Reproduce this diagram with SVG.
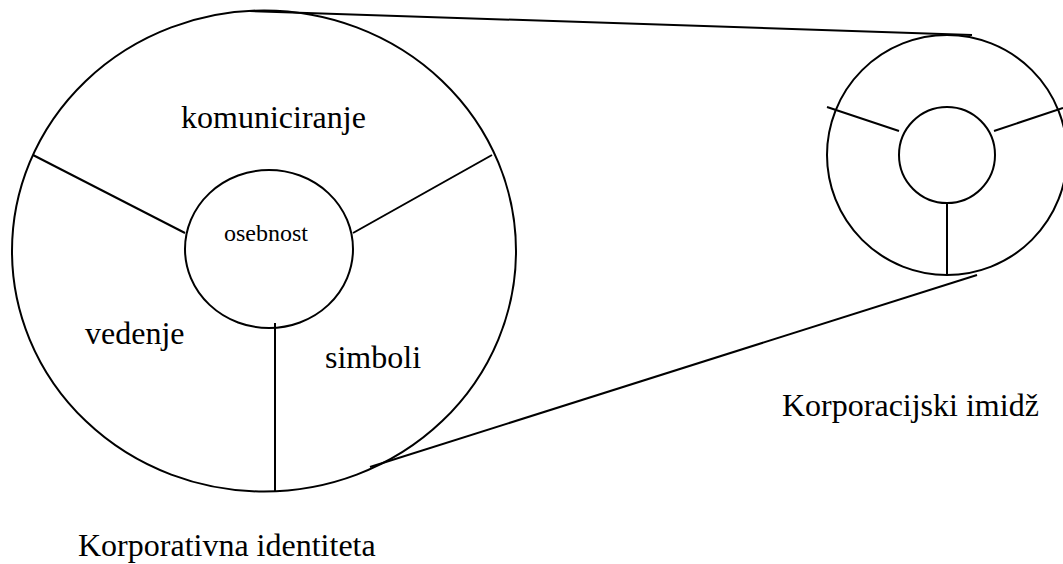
<svg xmlns="http://www.w3.org/2000/svg" width="1063" height="564" viewBox="0 0 1063 564">
<style>
.s{fill:none;stroke:#000;stroke-width:2}
.t{font-family:'Liberation Serif','Times New Roman',serif;font-size:32px;fill:#000}
.sm{font-size:24px}
</style>
<rect width="1063" height="564" fill="#fff"/>
<g id="connectors">
<line class="s" x1="250" y1="11" x2="972" y2="35"/>
<line class="s" x1="977" y1="275" x2="370" y2="467"/>
</g>
<g id="identity">
<ellipse class="s" cx="264" cy="251" rx="252" ry="240.5"/>
<ellipse class="s" cx="269" cy="249" rx="84" ry="79"/>
<line class="s" x1="33" y1="155" x2="185" y2="233"/>
<line class="s" x1="492" y1="155" x2="353" y2="233"/>
<line class="s" x1="275" y1="323" x2="275" y2="492"/>
<text class="t" x="181" y="128">komuniciranje</text>
<text class="t sm" x="224" y="241">osebnost</text>
<text class="t" x="85" y="344">vedenje</text>
<text class="t" x="325" y="368">simboli</text>
<text class="t" x="78" y="556">Korporativna identiteta</text>
</g>
<g id="image">
<ellipse class="s" cx="947" cy="155" rx="120" ry="120"/>
<circle class="s" cx="947" cy="155" r="48"/>
<line class="s" x1="827" y1="107" x2="899" y2="131"/>
<line class="s" x1="994" y1="131" x2="1063" y2="108"/>
<line class="s" x1="947" y1="203" x2="947" y2="275"/>
<text class="t" x="782" y="416">Korporacijski imidž</text>
</g>
</svg>
